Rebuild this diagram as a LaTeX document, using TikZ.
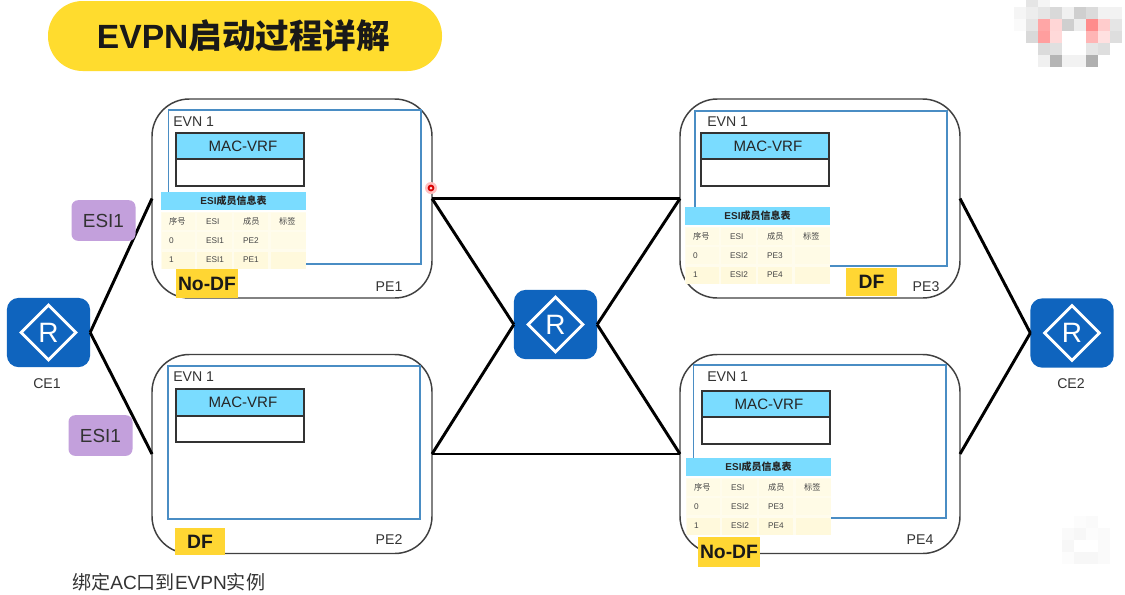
\documentclass[tikz,border=0pt]{standalone}
\usepackage{fontspec}
\setmainfont{Liberation Sans}
\newfontfamily\cjk{Noto Sans CJK SC}
\usetikzlibrary{fit,shapes.geometric}
\definecolor{routerblue}{RGB}{15,100,190}
\definecolor{hdrblue}{RGB}{122,220,255}
\definecolor{framecol}{RGB}{74,141,196}
\definecolor{badge}{RGB}{255,214,51}
\definecolor{titley}{RGB}{255,220,46}
\definecolor{purp}{RGB}{195,160,220}
\definecolor{rowa}{RGB}{255,251,230}
\definecolor{rowb}{RGB}{255,249,220}
\definecolor{txtgrey}{RGB}{70,70,70}
\tikzset{
  fitbox/.style={inner sep=0pt,outer sep=0pt},
  pebox/.style={draw=black!75,line width=1.1pt,rounded corners=28pt,minimum width=210pt,minimum height=149.25pt,inner sep=0pt,outer sep=0pt},
  frame/.style={fitbox,draw=framecol,line width=1.1pt},
  macbox/.style={fitbox,draw=black!80,line width=1.1pt},
  machead/.style={macbox,fill=hdrblue},
  mactext/.style={inner sep=0pt,font=\fontsize{11.3}{12}\selectfont,text=black!85},
  badgebox/.style={fitbox,fill=badge},
  badgetext/.style={inner sep=0pt,font=\fontsize{14.5}{15}\bfseries\selectfont,text=black!90},
  link/.style={line width=2.2pt,black},
  routerbox/.style={fill=routerblue,rounded corners=9pt,minimum width=62.5pt,minimum height=52pt,inner sep=0pt,outer sep=0pt},
  routermark/.style={diamond,draw=white,line width=2.2pt,aspect=1,minimum width=42pt,minimum height=42pt,inner sep=0pt,text=white,font=\fontsize{21}{21}\selectfont},
  lab/.style={font=\fontsize{10.6}{12}\selectfont,text=black!80,inner sep=0pt},
  esibox/.style={fill=purp,rounded corners=5pt,minimum width=48pt,minimum height=30.5pt,inner sep=0pt,font=\fontsize{14.2}{15}\selectfont,text=black!80},
  tabhead/.style={fitbox,fill=hdrblue},
  tabheadtext/.style={inner sep=0pt,font=\fontsize{7.5}{8}\bfseries\selectfont,text=black!85},
  cell/.style={fitbox,font=\fontsize{6.2}{7}\selectfont,text=txtgrey}
}
% name, left x, top y, ESI text, member 1, member 2
\newcommand{\esitable}[6]{%
  \node[tabhead,fit={(#2,#3)(#2+145,#3+18)}] (#1head) {};
  \node[tabheadtext] (#1headt) at (#1head.center) {ESI{\cjk 成员信息表}};
  \fill[white] (#2,#3+18) rectangle (#2+145,#3+77);
  \fill[rowa!70] (#2,#3+20) rectangle (#2+145,#3+77);
  \foreach \r/\dy/\colr in {0/21/rowa,1/40/rowa,2/60/rowb}{
    \foreach \c/\da/\db in {0/1/34,1/36/71,2/73/107,3/110/145}{
      \fill[\colr] (#2+\da,#3+\dy) rectangle (#2+\db,#3+\dy+17);
    }
  }
  \node[cell,anchor=west] (#1t1) at (#2+8,#3+29.5) {\cjk 序号};
  \node[cell,anchor=west] (#1t2) at (#2+45,#3+29.5) {ESI};
  \node[cell,anchor=west] (#1t3) at (#2+82,#3+29.5) {\cjk 成员};
  \node[cell,anchor=west] (#1t4) at (#2+118,#3+29.5) {\cjk 标签};
  \node[cell,anchor=west] (#1a1) at (#2+8,#3+48.5) {0};
  \node[cell,anchor=west] (#1a2) at (#2+45,#3+48.5) {#4};
  \node[cell,anchor=west] (#1a3) at (#2+82,#3+48.5) {#5};
  \node[cell,anchor=west] (#1b1) at (#2+8,#3+67.5) {1};
  \node[cell,anchor=west] (#1b2) at (#2+45,#3+67.5) {#4};
  \node[cell,anchor=west] (#1b3) at (#2+82,#3+67.5) {#6};
}
% name, left x, top y, split y
\newcommand{\macvrf}[4]{%
  \node[machead,fit={(#2,#3)(#2+128,#4)}] (#1h) {};
  \node[mactext] (#1ht) at (#2+67,#3+13.5) {MAC-VRF};
  \node[macbox,fit={(#2,#4)(#2+128,#3+53)}] (#1b) {};
}
\newcommand{\routericon}[2]{%
  \node[routerbox] (#1) at (#2) {};
  \node[routermark] (#1m) at (#1.center) {R};
}
% name, x0,y0, x1,y1, text
\newcommand{\badgetag}[6]{%
  \node[badgebox,fit={(#2,#3)(#4,#5)}] (#1) {};
  \node[badgetext] (#1t) at (#1.center) {#6};
}
\begin{document}
\begin{tikzpicture}[x=0.75pt,y=-0.75pt]
\useasboundingbox (0,0) rectangle (1125,594);
\fill[white] (0,0) rectangle (1125,594);
% mosaic watermark
\foreach \x/\y/\c in {1026/0/black!10,1038/0/black!4,
 1014/7/black!4,1026/7/black!7,1038/7/black!10,1050/7/black!15,1062/7/black!6,1074/7/black!19,1086/7/black!14,1098/7/black!5,1110/7/black!5,
 1014/19/black!2,1026/19/black!10,1038/19/red!35,1050/19/red!16,1062/19/black!19,1074/19/black!7,1086/19/red!45,1098/19/red!20,1110/19/black!10,
 1026/31/black!15,1038/31/red!38,1050/31/red!15,1086/31/red!29,1098/31/red!12,1110/31/black!13,
 1038/43/black!14,1050/43/black!12,1086/43/black!10,1098/43/black!13,
 1038/55/black!6,1050/55/black!29,1062/55/black!5,1074/55/black!5,1086/55/black!31,
 1074/516/black!1,1086/516/black!2,1062/528/black!2,1074/528/black!3,1086/528/black!1,1098/528/black!2,1062/540/black!3,1098/540/black!2,1062/552/black!1,1074/552/black!3,1086/552/black!3,1098/552/black!2}{
  \fill[\c] (\x,\y) rectangle +(12.3,12.3);
}
% title
\node[fitbox,fill=titley,rounded corners=26pt,fit={(48,1)(442,71)}] (title) {};
\node[inner sep=0pt,font=\fontsize{25.2}{26}\bfseries\selectfont,text=black!90] (titlet) at (243.5,36) {EVPN{\cjk 启动过程详解}};
% PE boxes
\node[pebox] (pe1) at (292,198.5) {};
\node[pebox] (pe2) at (292,454) {};
\node[pebox] (pe3) at (820,198.5) {};
\node[pebox] (pe4) at (820,454) {};
% routers
\routericon{ce1}{48.5,332.5}
\routericon{core}{555.5,324.5}
\routericon{ce2}{1072,333}
% links
\draw[link] (ce1.east) -- (pe1.west);
\draw[link] (ce1.east) -- (pe2.west);
\draw[link] (core.west) -- (pe1.east);
\draw[link] (core.west) -- (pe2.east);
\draw[link] (core.east) -- (pe3.west);
\draw[link] (core.east) -- (pe4.west);
\draw[link] (pe1.east) -- (pe3.west);
\draw[link] (pe2.east) -- (pe4.west);
\draw[link] (pe3.east) -- (ce2.west);
\draw[link] (pe4.east) -- (ce2.west);
% inner frames
\node[frame,fit={(168.5,110)(421,264)}] (f1) {};
\node[frame,fit={(168,366)(420,519)}] (f2) {};
\node[frame,fit={(695,111)(947,266)}] (f3) {};
\node[frame,fit={(693.5,365)(946,518)}] (f4) {};
% EVN labels
\node[lab,anchor=west] (e1) at (173,121.5) {EVN 1};
\node[lab,anchor=west] (e2) at (173,376.5) {EVN 1};
\node[lab,anchor=west] (e3) at (707,121.5) {EVN 1};
\node[lab,anchor=west] (e4) at (707,376.5) {EVN 1};
% MAC-VRF
\macvrf{m1}{176}{133}{159}
\macvrf{m2}{176}{389}{416}
\macvrf{m3}{701}{133}{159}
\macvrf{m4}{702}{391}{417}
% tables
\esitable{a}{161}{192}{ESI1}{PE2}{PE1}
\esitable{c}{685}{207}{ESI2}{PE3}{PE4}
\esitable{d}{686}{458}{ESI2}{PE3}{PE4}
% badges
\badgetag{b1}{176}{269}{238}{298}{No-DF}
\badgetag{b2}{175}{528}{225}{555}{DF}
\badgetag{b3}{846}{268}{897}{296}{DF}
\badgetag{b4}{698}{537}{760}{567}{No-DF}
% PE labels
\node[lab] (l1) at (389,287) {PE1};
\node[lab] (l2) at (389,540) {PE2};
\node[lab] (l3) at (926,287) {PE3};
\node[lab] (l4) at (920,540) {PE4};
\node[lab] (l5) at (47,384) {CE1};
\node[lab] (l6) at (1071,384) {CE2};
% ESI tags
\node[esibox] (t1) at (103.5,220.5) {ESI1};
\node[esibox] (t2) at (100.5,435.5) {ESI1};
% pointer dot
\fill[red!25] (431,188) circle (6);
\fill[red!85!black] (431,188) circle (3.4);
\fill[red!15] (431,188) circle (1.5);
% caption
\node[anchor=west,inner sep=0pt,font=\fontsize{14.3}{15}\selectfont,text=black!80] (cap) at (72,582) {{\cjk 绑定}AC{\cjk 口到}EVPN{\cjk 实例}};
\end{tikzpicture}
\end{document}
